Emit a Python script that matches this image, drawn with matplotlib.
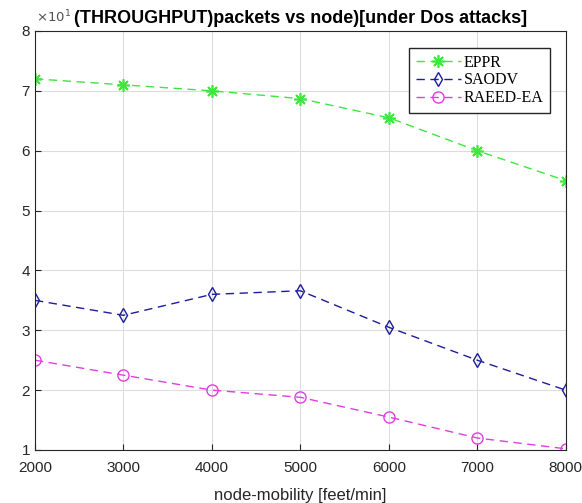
import matplotlib.pyplot as plt
import numpy as np

mobility = [2000, 3000, 4000, 5000, 6000, 7000, 8000]
eppr = [7.2, 7.1, 7.0, 6.87, 6.55, 6.0, 5.5]
saodv = [3.5, 3.25, 3.6, 3.66, 3.05, 2.5, 2.0]
raeed = [2.5, 2.25, 2.0, 1.88, 1.55, 1.2, 1.02]

plt.rcParams['font.family'] = ['Liberation Sans', 'DejaVu Sans']

fig = plt.figure(figsize=(5.82, 5.03), dpi=100)
ax = fig.add_axes([0.0601, 0.1054, 0.912, 0.833])

dash = (0, (6, 4))
ax.plot(mobility, eppr, color='#3ee63e', ls=dash, marker=(8, 2, 0), markersize=9,
        markeredgewidth=1.2, label='EPPR', lw=1)
ax.plot(mobility, saodv, color='#1c1c9c', ls=dash, marker='d', markersize=7,
        markerfacecolor='none', label='SAODV', lw=1)
ax.plot(mobility, raeed, color='#e03ee0', ls=dash, marker='o', markersize=8,
        markerfacecolor='none', label='RAEED-EA', lw=1)

ax.set_xlim(2000, 8000)
ax.set_ylim(1, 8)
ax.set_xticks(mobility)
ax.set_yticks(range(1, 9))
ax.grid(True, color='#dddddd', lw=0.8)
ax.tick_params(direction='in', labelsize=11, colors='#262626', length=4)
ax.tick_params(axis='x', pad=8)
for s in ax.spines.values():
    s.set_color('#262626')

ax.set_xlabel('node-mobility [feet/min]', fontsize=12, color='#262626', labelpad=9)
fig.text(0.061, 0.955, r'$\times 10^{1}$', fontsize=9.5, color='#505050')
ax.set_title('(THROUGHPUT)packets vs node)[under Dos attacks]', fontsize=13,
             fontweight='bold', pad=6)

leg = ax.legend(loc='upper right', bbox_to_anchor=(0.970, 0.959),
                prop={'family': 'Liberation Serif', 'size': 11.5},
                fancybox=False, edgecolor='#262626', framealpha=1,
                borderaxespad=0, handlelength=2.8, labelspacing=0.12,
                handletextpad=0.2, borderpad=0.4)
leg.get_frame().set_linewidth(1)

fig.savefig('out.png', dpi=100)
